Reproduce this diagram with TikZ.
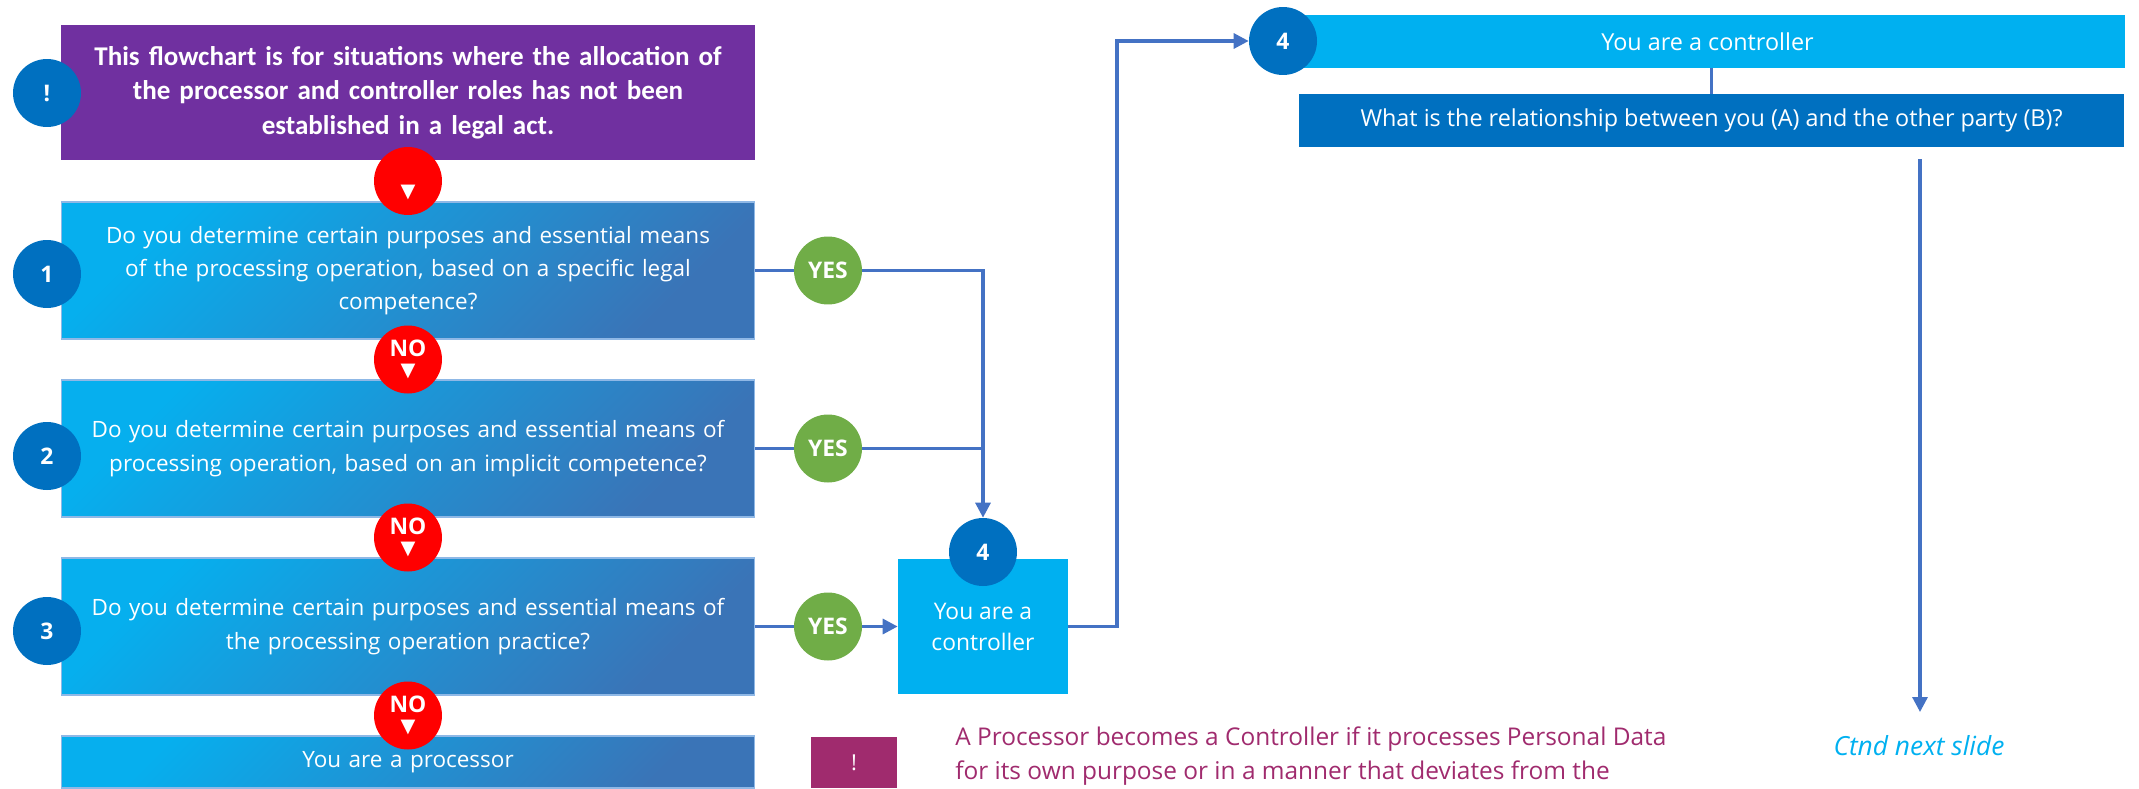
\documentclass[tikz,border=0pt]{standalone}
\usepackage{fontspec}
\setmainfont{Open Sans}
\newfontfamily\calfont{Carlito}
\newfontfamily\symfont{DejaVu Sans}
\usepackage{xcolor}
\usepackage{tikz}
\usetikzlibrary{shapes, arrows.meta, positioning}

\definecolor{numblue}{HTML}{0070C0}
\definecolor{barcyan}{HTML}{00B0F0}
\definecolor{introviolet}{HTML}{7030A0}
\definecolor{nored}{HTML}{FF0000}
\definecolor{yesgreen}{HTML}{70AD47}
\definecolor{linkblue}{HTML}{4472C4}
\definecolor{notemagenta}{HTML}{A02B6E}
\definecolor{gradtop}{HTML}{06AFEE}
\definecolor{gradbot}{HTML}{3A74B7}
\definecolor{boxedge}{HTML}{8FB8E6}

\newcommand{\downtri}{{\symfont\fontsize{11}{11}\selectfont ▼}}

\begin{document}
\begin{tikzpicture}[x=0.02cm, y=-0.02cm,
    introbox/.style={rectangle, fill=introviolet, minimum width=13.88cm, minimum height=2.7cm, text width=13.6cm, align=center, text=white, font=\calfont\bfseries\fontsize{15.4}{19.7}\selectfont},
    qbox/.style={rectangle, draw=boxedge, line width=0.6pt, top color=gradtop, bottom color=gradbot, shading angle=45, minimum width=13.88cm, minimum height=2.74cm, text width=13.6cm, align=center, text=white, font=\fontsize{12.8}{18.9}\selectfont},
    numcirc/.style={circle, fill=numblue, minimum size=1.36cm, inner sep=0pt, text=white, font=\bfseries\fontsize{13}{13}\selectfont},
    nocirc/.style={circle, fill=nored, minimum size=1.36cm, inner sep=0pt, align=center, text=white, font=\bfseries\fontsize{13}{13}\selectfont},
    yescirc/.style={circle, fill=yesgreen, minimum size=1.36cm, inner sep=0pt, text=white, font=\bfseries\fontsize{13}{13}\selectfont},
    ctrlbox/.style={rectangle, fill=barcyan, minimum width=3.4cm, minimum height=2.7cm, align=center, text=white, font=\fontsize{13}{17.6}\selectfont},
    barbox/.style={rectangle, fill=barcyan, minimum width=16.7cm, minimum height=1.06cm, text=white, font=\fontsize{13.3}{15}\selectfont},
    relbox/.style={rectangle, fill=numblue, minimum width=16.5cm, minimum height=1.06cm, text=white, font=\fontsize{13.3}{15}\selectfont},
    markbox/.style={rectangle, fill=notemagenta, minimum width=1.72cm, minimum height=1.02cm, text=white, font=\fontsize{12.5}{15}\selectfont},
    notetext/.style={align=left, inner sep=0pt, text=notemagenta, font=\fontsize{13.9}{19.8}\selectfont},
    link/.style={draw=linkblue, line width=1.8pt},
    arrow/.style={link, -{Triangle[length=8.5pt, width=8.5pt]}}]

    \useasboundingbox (0,0) rectangle (2139,788);

    \node[introbox] (intro) at (408,92.5) {This flowchart is for situations where the allocation of\\the processor and controller roles has not been\\established in a legal act.};
    \node[qbox] (q1) at (408,270.5) {Do you determine certain purposes and essential means\\of the processing operation, based on a specific legal\\competence?};
    \node[qbox] (q2) at (408,448.5) {Do you determine certain purposes and essential means of\\processing operation, based on an implicit competence?};
    \node[qbox] (q3) at (408,626.5) {Do you determine certain purposes and essential means of\\the processing operation practice?};
    \node[qbox, minimum height=1.04cm] (proc) at (408,762) {You are a processor};

    \node[numcirc] (nI) at (47,93) {!};
    \node[numcirc] (n1) at (47,274) {1};
    \node[numcirc] (n2) at (47,456) {2};
    \node[numcirc] (n3) at (47,631) {3};

    \node[nocirc] (no0) at (408,181) {\phantom{NO}\\[-2pt]\downtri};
    \node[nocirc] (no1) at (408,359.5) {NO\\[-2pt]\downtri};
    \node[nocirc] (no2) at (408,537.5) {NO\\[-2pt]\downtri};
    \node[nocirc] (no3) at (408,715.5) {NO\\[-2pt]\downtri};

    \node[yescirc] (yes1) at (828,270.5) {YES};
    \node[yescirc] (yes2) at (828,448.5) {YES};
    \node[yescirc] (yes3) at (828,626.5) {YES};

    \node[ctrlbox] (ctrl) at (983,626.5) {You are a\\controller};
    \node[numcirc] (n4) at (983,552) {4};

    \node[barbox] (bar) at (1707.5,41.5) {You are a controller};
    \node[numcirc] (n4b) at (1283,41) {4};
    \node[relbox] (relq) at (1711.5,120.5) {What is the relationship between you (A) and the other party (B)?};

    \node[markbox] (mark) at (854,762.5) {!};
    \node[notetext, anchor=north west] (note) at (955,726) {A Processor becomes a Controller if it processes Personal Data\\for its own purpose or in a manner that deviates from the};
    \node[text=barcyan, font=\itshape\fontsize{15}{18}\selectfont] (ctnd) at (1919,746) {Ctnd next slide};

    \coordinate (turn) at (1117,626.5);
    \coordinate (cstart) at (1920,159);
    \coordinate (cend) at (1920,712);

    \draw[link] (q1) -- (yes1);
    \draw[arrow] (yes1) -| (n4);
    \draw[link] (q2) -- (yes2);
    \draw[link] (yes2) -- (yes2 -| n4);
    \draw[link] (q3) -- (yes3);
    \draw[arrow] (yes3) -- (ctrl);
    \draw[arrow] (ctrl) -- (turn) |- (n4b);
    \draw[link] (relq.north |- bar.south) -- (relq.north);
    \draw[arrow] (cstart) -- (cend);
\end{tikzpicture}
\end{document}
